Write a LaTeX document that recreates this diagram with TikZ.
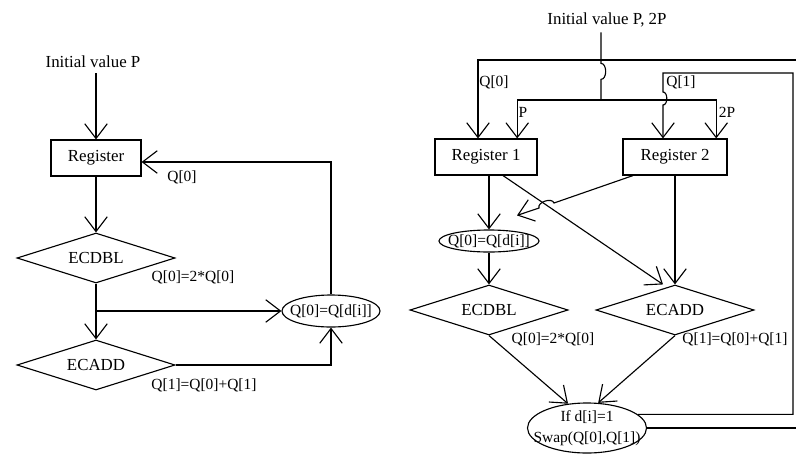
\documentclass[tikz,border=0pt]{standalone}
\usepackage{fontspec}
\setmainfont{Liberation Serif}
\usetikzlibrary{positioning,arrows.meta,shapes.geometric}

\begin{document}
\begin{tikzpicture}[x=0.025cm,y=-0.025cm,>={Straight Barb[length=10.5pt,width=16pt]},line width=0.8pt,
  every node/.style={font=\fontsize{12}{14}\selectfont},
  reg/.style={draw,rectangle,minimum height=0.9cm,inner sep=0pt},
  dia/.style={draw,diamond,minimum width=3.95cm,minimum height=1.25cm,inner sep=0pt,aspect=3},
  ell/.style={draw,ellipse,inner xsep=-30pt,inner ysep=-6pt,font=\fontsize{11}{15}\selectfont},
  lbl/.style={font=\fontsize{11}{13}\selectfont,inner sep=0pt}]
\useasboundingbox (0,0) rectangle (796,455);
% left: one register
\node (init1) at (93,62) {Initial value P};
\node[reg,minimum width=2.25cm] (reg) at (96,158) {Register};
\node[dia] (dbl1) at (96,258) {ECDBL};
\node[dia] (add1) at (96,365) {ECADD};
\node[ell,minimum width=2.45cm,minimum height=0.8cm] (sel1) at (331,311) {Q[0]=Q[d[i]]};
\node[lbl] (l1q0) at (182,177) {Q[0]};
\node[lbl] (l1dbl) at (193,277) {Q[0]=2*Q[0]};
\node[lbl] (l1add) at (204,385) {Q[1]=Q[0]+Q[1]};
\draw[->] (reg.north |- init1.south) -- (reg.north);
\draw[->] (reg) -- (dbl1);
\draw[->] (dbl1) -- (add1);
\draw[->] (dbl1.south |- sel1.west) -- (sel1.west);
\draw[->] (add1.east) -| (sel1.south);
\draw[->] (sel1.north) |- ([yshift=-0.1cm]reg.east);
% right: two registers
\node (init2) at (607,20) {Initial value P, 2P};
\node[reg,minimum width=2.55cm] (reg1) at (486,157) {Register 1};
\node[reg,minimum width=2.6cm] (reg2) at (675,157) {Register 2};
\node[ell,minimum width=2.5cm,minimum height=0.55cm] (sel2) at (489,241) {Q[0]=Q[d[i]]};
\node[dia] (dbl2) at (489,310) {ECDBL};
\node[dia] (add2) at (675,310) {ECADD};
\node[ell,minimum width=2.975cm,minimum height=1.25cm,align=center] (swp) at (587,428) {If d[i]=1\\Swap(Q[0],Q[1])};
\node[lbl] (l2q0) at (494,82) {Q[0]};
\node[lbl] (l2q1) at (681,82) {Q[1]};
\node[lbl] (l2p) at (523,112) {P};
\node[lbl] (l22p) at (727,112) {2P};
\node[lbl] (l2dbl) at (553,339) {Q[0]=2*Q[0]};
\node[lbl] (l2add) at (735,339) {Q[1]=Q[0]+Q[1]};
\coordinate (split) at (601,100);
\coordinate (q0c) at (800,60);
\coordinate (q0t) at (478,60);
\coordinate (q1c) at (793,73);
\coordinate (q1t) at (663,73);
\draw (split |- init2.south) -- ++(0,31) to[bend left=90] ++(0,16) -- (split);
\draw[->] (split) -| ([xshift=0.78cm]reg1.north);
\draw[->] (split) -| ([xshift=1.03cm]reg2.north);
\draw[->] (swp.east) -| (q0c) -- (q0t) -- (q0t |- reg1.north);
\draw[->] (swp.15) -| (q1c) -- (q1t) -- ++(0,19) to[bend left=90] ++(0,13) -- (q1t |- reg2.north);
\draw[->] (reg1.south -| sel2.north) -- (sel2.north);
\draw[->] (sel2) -- (dbl2);
\draw[->] (reg2) -- (add2);
\draw[->] ([xshift=0.425cm]reg1.south) -- ([xshift=-0.3cm]add2.north);
\draw[->] ([xshift=-1.05cm]reg2.south) -- (554,203) to[bend right=90] (539,208) -- ([xshift=0.7cm,yshift=0.35cm]sel2.north);
\draw[->] (dbl2.south) -- (swp.128);
\draw[->] (add2.south) -- (swp.66);
\end{tikzpicture}
\end{document}
